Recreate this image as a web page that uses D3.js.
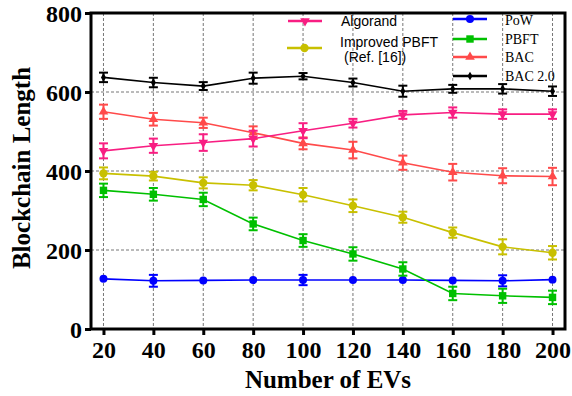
<!DOCTYPE html>
<html>
<head>
<meta charset="utf-8">
<script src="https://cdn.jsdelivr.net/npm/d3@7"></script>
<style>
  body { margin: 0; background: #fff; }
  svg { display: block; }
</style>
</head>
<body>
<div id="chart"></div>
<script>
// Data
const evs = [20, 40, 60, 80, 100, 120, 140, 160, 180, 200];
const yTicks = [0, 200, 400, 600, 800];

const powVals  = [127, 122, 123, 124, 124, 124, 124, 123, 122, 125];
const powErr   = [2, 15, 2, 2, 13, 2, 2, 2, 14, 2];
const pbftVals = [351, 341, 328, 266, 224, 190, 152, 90, 84, 80];
const pbftErr  = [17, 16, 17, 16, 16, 17, 17, 17, 18, 17];
const bacVals  = [550, 531, 522, 497, 470, 453, 421, 397, 388, 386];
const bacErr   = [18, 16, 13, 16, 15, 21, 18, 21, 19, 22];
const bac2Vals = [637, 624, 615, 635, 640, 624, 602, 608, 608, 602];
const bac2Err  = [12, 12, 10, 14, 8, 10, 14, 10, 12, 12];
const algoVals = [451, 464, 472, 482, 502, 521, 542, 548, 544, 544];
const algoErr  = [19, 18, 21, 20, 19, 11, 10, 13, 12, 12];
const ipbftVals = [394, 387, 370, 364, 340, 312, 283, 244, 208, 193];
const ipbftErr  = [15, 11, 14, 13, 17, 16, 14, 13, 19, 17];

const series = [
  { name: "PoW",           vals: powVals,   err: powErr,   color: "#0000ff", sym: d3.symbolCircle,   size: 50 },
  { name: "PBFT",          vals: pbftVals,  err: pbftErr,  color: "#00c000", sym: d3.symbolSquare,   size: 55 },
  { name: "Improved PBFT", vals: ipbftVals, err: ipbftErr, color: "#c8c000", sym: d3.symbolCircle,   size: 55 },
  { name: "BAC",           vals: bacVals,   err: bacErr,   color: "#ff4a4a", sym: d3.symbolTriangle, size: 40, rot: 0 },
  { name: "Algorand",      vals: algoVals,  err: algoErr,  color: "#f81e82", sym: d3.symbolTriangle, size: 40, rot: 180 },
  { name: "BAC 2.0",       vals: bac2Vals,  err: bac2Err,  color: "#000000", sym: d3.symbolDiamond,  size: 22 }
];

const W = 572, H = 396;
const m = { left: 91, right: 7, top: 13, bottom: 67 };

const svg = d3.select("#chart").append("svg")
  .attr("width", W).attr("height", H);

const x = d3.scaleLinear().domain([15, 205]).range([m.left, W - m.right]);
const y = d3.scaleLinear().domain([0, 800]).range([H - m.bottom, m.top]);

// grid
const grid = svg.append("g")
  .attr("stroke", "#777").attr("stroke-width", 1).attr("stroke-dasharray", "3,2");
evs.forEach(v => {
  grid.append("line").attr("x1", x(v)).attr("x2", x(v)).attr("y1", y(800)).attr("y2", y(0));
});
[200, 400, 600].forEach(v => {
  grid.append("line").attr("x1", x(15)).attr("x2", x(205)).attr("y1", y(v)).attr("y2", y(v));
});

// series
const line = d3.line().x((d, i) => x(evs[i])).y(d => y(d));
series.forEach(s => {
  const g = svg.append("g");
  g.append("path").datum(s.vals)
    .attr("d", line)
    .attr("fill", "none")
    .attr("stroke", s.color)
    .attr("stroke-width", 1.6);
  s.vals.forEach((v, i) => {
    const cx = x(evs[i]);
    const e = s.err[i];
    if (e > 3) {
      g.append("line").attr("x1", cx).attr("x2", cx).attr("y1", y(v - e)).attr("y2", y(v + e))
        .attr("stroke", s.color).attr("stroke-width", 2);
      [v - e, v + e].forEach(t => {
        g.append("line").attr("x1", cx - 4.5).attr("x2", cx + 4.5).attr("y1", y(t)).attr("y2", y(t))
          .attr("stroke", s.color).attr("stroke-width", 2);
      });
    }
    g.append("path")
      .attr("d", d3.symbol().type(s.sym).size(s.size)())
      .attr("transform", `translate(${cx},${y(v)}) rotate(${s.rot || 0})`)
      .attr("fill", s.color);
  });
});

// frame
svg.append("rect")
  .attr("x", x(15)).attr("y", y(800))
  .attr("width", x(205) - x(15)).attr("height", y(0) - y(800))
  .attr("fill", "none").attr("stroke", "#000").attr("stroke-width", 3);

// axes
const yAxis = svg.append("g")
  .attr("transform", `translate(${x(15)},0)`)
  .call(d3.axisLeft(y).tickValues(yTicks).tickSize(6).tickPadding(3));
const xAxis = svg.append("g")
  .attr("transform", `translate(0,${y(0)})`)
  .call(d3.axisBottom(x).tickValues(evs).tickSize(6).tickPadding(6));
[yAxis, xAxis].forEach(a => {
  a.select(".domain").remove();
  a.selectAll(".tick line").attr("stroke", "#000").attr("stroke-width", 3);
  a.selectAll(".tick text")
    .attr("font-family", "Liberation Serif, Times New Roman, serif")
    .attr("font-weight", "bold")
    .attr("font-size", 24)
    .attr("fill", "#000");
});
yAxis.selectAll(".tick text").attr("dy", "0.34em");

// axis titles
svg.append("text")
  .attr("transform", `translate(30,${(y(0) + y(800)) / 2 - 3}) rotate(-90)`)
  .attr("text-anchor", "middle")
  .attr("font-family", "Liberation Serif, Times New Roman, serif")
  .attr("font-weight", "bold").attr("font-size", 25)
  .text("Blockchain Length");
svg.append("text")
  .attr("x", (x(15) + x(205)) / 2 + 0).attr("y", 388)
  .attr("text-anchor", "middle")
  .attr("font-family", "Liberation Serif, Times New Roman, serif")
  .attr("font-weight", "bold").attr("font-size", 25)
  .text("Number of EVs");

// legends
const byName = Object.fromEntries(series.map(s => [s.name, s]));
function legendItem(s, lx1, lx2, ly, label, tx, ty, font) {
  const g = svg.append("g");
  g.append("line").attr("x1", lx1).attr("x2", lx2).attr("y1", ly).attr("y2", ly)
    .attr("stroke", s.color).attr("stroke-width", 2.5);
  g.append("path")
    .attr("d", d3.symbol().type(s.sym).size(s.size)())
    .attr("transform", `translate(${(lx1 + lx2) / 2},${ly}) rotate(${s.rot || 0})`)
    .attr("fill", s.color);
  label.forEach((t, k) => {
    g.append("text").attr("x", tx[k]).attr("y", ty[k])
      .attr("font-family", font).attr("font-size", 14).attr("fill", "#000")
      .text(t);
  });
}
const sans = "Liberation Sans, Arial, sans-serif";
const serif = "Liberation Serif, Times New Roman, serif";
legendItem(byName["Algorand"], 288, 322, 21, ["Algorand"], [341], [26], sans);
legendItem(byName["Improved PBFT"], 287, 322, 48, ["Improved PBFT", "(Ref. [16])"], [340, 344], [46.5, 61.5], sans);
legendItem(byName["PoW"], 453, 487, 19, ["PoW"], [505], [24.5], serif);
legendItem(byName["PBFT"], 453, 487, 39, ["PBFT"], [505], [44], serif);
legendItem(byName["BAC"], 453, 487, 57, ["BAC"], [505], [62], serif);
legendItem(byName["BAC 2.0"], 453, 487, 76, ["BAC 2.0"], [505], [81], serif);
</script>
</body>
</html>
